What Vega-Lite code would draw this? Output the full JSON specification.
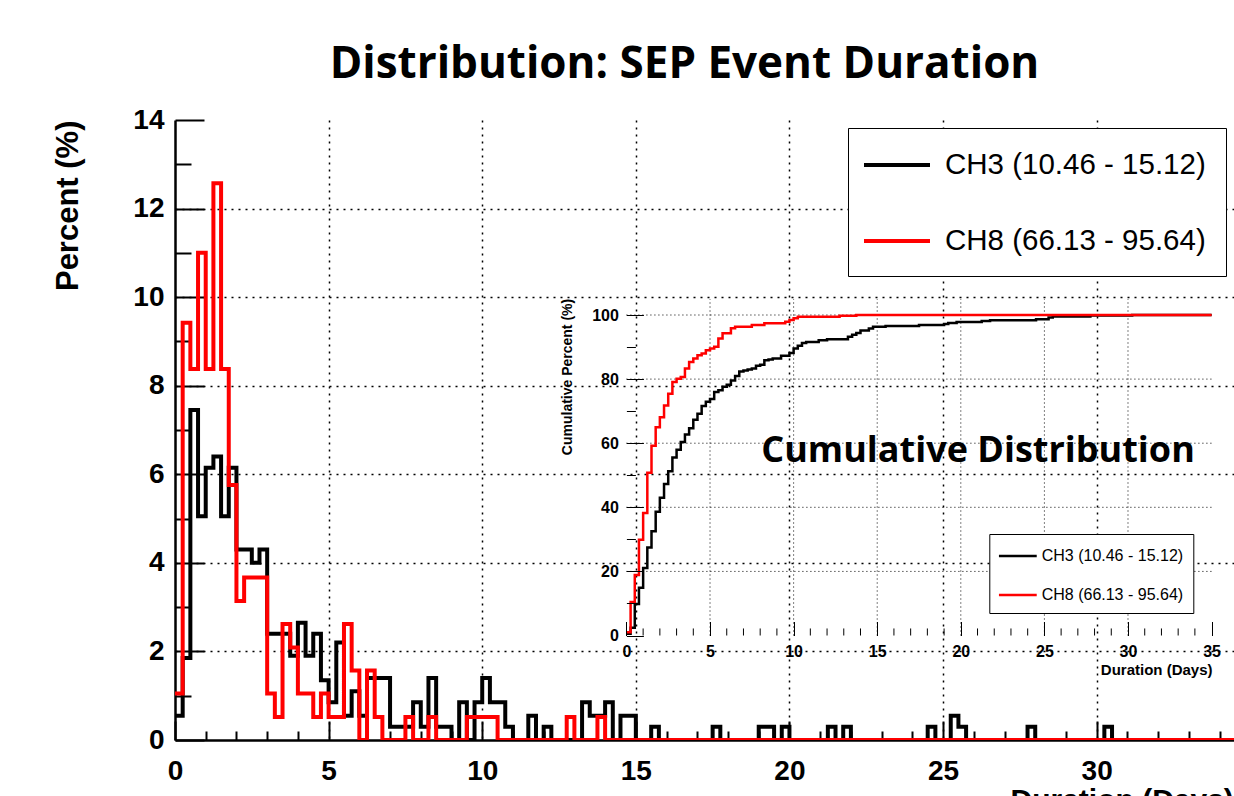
{
  "$schema": "https://vega.github.io/schema/vega-lite/v6.json",
  "width": 1059,
  "height": 620,
  "autosize": {"type": "none"},
  "padding": {"left": 175, "top": 120, "right": 0, "bottom": 56},
  "background": "white",
  "config": {"view": {"stroke": null}, "axis": {"labelOverlap": false, "labelFont": "Liberation Sans", "labelFontWeight": "bold", "labelFontSize": 16, "labelColor": "black", "tickColor": "black"}},
  "title": {"text": "Distribution: SEP Event Duration", "font": "Open Sans", "fontSize": 44, "fontWeight": "bold", "color": "black", "anchor": "middle", "dx": -20, "dy": 46, "offset": 30, "baseline": "alphabetic"},
  "datasets": {
    "hist": [
      {"d": 0, "p": 0.55, "ch": "CH3 (10.46 - 15.12)"},
      {"d": 0.25, "p": 1.85, "ch": "CH3 (10.46 - 15.12)"},
      {"d": 0.5, "p": 7.45, "ch": "CH3 (10.46 - 15.12)"},
      {"d": 0.75, "p": 5.05, "ch": "CH3 (10.46 - 15.12)"},
      {"d": 1.0, "p": 6.15, "ch": "CH3 (10.46 - 15.12)"},
      {"d": 1.25, "p": 6.4, "ch": "CH3 (10.46 - 15.12)"},
      {"d": 1.5, "p": 5.05, "ch": "CH3 (10.46 - 15.12)"},
      {"d": 1.75, "p": 6.15, "ch": "CH3 (10.46 - 15.12)"},
      {"d": 2.0, "p": 4.3, "ch": "CH3 (10.46 - 15.12)"},
      {"d": 2.5, "p": 4.0, "ch": "CH3 (10.46 - 15.12)"},
      {"d": 2.75, "p": 4.3, "ch": "CH3 (10.46 - 15.12)"},
      {"d": 3.0, "p": 2.4, "ch": "CH3 (10.46 - 15.12)"},
      {"d": 3.75, "p": 1.9, "ch": "CH3 (10.46 - 15.12)"},
      {"d": 4.0, "p": 2.65, "ch": "CH3 (10.46 - 15.12)"},
      {"d": 4.25, "p": 1.9, "ch": "CH3 (10.46 - 15.12)"},
      {"d": 4.5, "p": 2.4, "ch": "CH3 (10.46 - 15.12)"},
      {"d": 4.75, "p": 1.35, "ch": "CH3 (10.46 - 15.12)"},
      {"d": 5.0, "p": 0.85, "ch": "CH3 (10.46 - 15.12)"},
      {"d": 5.25, "p": 2.2, "ch": "CH3 (10.46 - 15.12)"},
      {"d": 5.5, "p": 0.55, "ch": "CH3 (10.46 - 15.12)"},
      {"d": 5.75, "p": 1.1, "ch": "CH3 (10.46 - 15.12)"},
      {"d": 6.0, "p": 0.55, "ch": "CH3 (10.46 - 15.12)"},
      {"d": 6.25, "p": 1.4, "ch": "CH3 (10.46 - 15.12)"},
      {"d": 7.0, "p": 0.3, "ch": "CH3 (10.46 - 15.12)"},
      {"d": 7.75, "p": 0.85, "ch": "CH3 (10.46 - 15.12)"},
      {"d": 8.0, "p": 0.3, "ch": "CH3 (10.46 - 15.12)"},
      {"d": 8.25, "p": 1.4, "ch": "CH3 (10.46 - 15.12)"},
      {"d": 8.5, "p": 0.3, "ch": "CH3 (10.46 - 15.12)"},
      {"d": 9.0, "p": 0, "ch": "CH3 (10.46 - 15.12)"},
      {"d": 9.25, "p": 0.85, "ch": "CH3 (10.46 - 15.12)"},
      {"d": 9.5, "p": 0, "ch": "CH3 (10.46 - 15.12)"},
      {"d": 9.75, "p": 0.85, "ch": "CH3 (10.46 - 15.12)"},
      {"d": 10.0, "p": 1.4, "ch": "CH3 (10.46 - 15.12)"},
      {"d": 10.25, "p": 0.85, "ch": "CH3 (10.46 - 15.12)"},
      {"d": 10.75, "p": 0.3, "ch": "CH3 (10.46 - 15.12)"},
      {"d": 11.0, "p": 0, "ch": "CH3 (10.46 - 15.12)"},
      {"d": 11.5, "p": 0.55, "ch": "CH3 (10.46 - 15.12)"},
      {"d": 11.75, "p": 0, "ch": "CH3 (10.46 - 15.12)"},
      {"d": 12.0, "p": 0.3, "ch": "CH3 (10.46 - 15.12)"},
      {"d": 12.25, "p": 0, "ch": "CH3 (10.46 - 15.12)"},
      {"d": 13.25, "p": 0.85, "ch": "CH3 (10.46 - 15.12)"},
      {"d": 13.5, "p": 0.55, "ch": "CH3 (10.46 - 15.12)"},
      {"d": 14.0, "p": 0.85, "ch": "CH3 (10.46 - 15.12)"},
      {"d": 14.25, "p": 0, "ch": "CH3 (10.46 - 15.12)"},
      {"d": 14.5, "p": 0.55, "ch": "CH3 (10.46 - 15.12)"},
      {"d": 15.0, "p": 0, "ch": "CH3 (10.46 - 15.12)"},
      {"d": 15.5, "p": 0.3, "ch": "CH3 (10.46 - 15.12)"},
      {"d": 15.75, "p": 0, "ch": "CH3 (10.46 - 15.12)"},
      {"d": 17.5, "p": 0.3, "ch": "CH3 (10.46 - 15.12)"},
      {"d": 17.75, "p": 0, "ch": "CH3 (10.46 - 15.12)"},
      {"d": 19.0, "p": 0.3, "ch": "CH3 (10.46 - 15.12)"},
      {"d": 19.5, "p": 0, "ch": "CH3 (10.46 - 15.12)"},
      {"d": 19.75, "p": 0.3, "ch": "CH3 (10.46 - 15.12)"},
      {"d": 20.0, "p": 0, "ch": "CH3 (10.46 - 15.12)"},
      {"d": 21.25, "p": 0.3, "ch": "CH3 (10.46 - 15.12)"},
      {"d": 21.5, "p": 0, "ch": "CH3 (10.46 - 15.12)"},
      {"d": 21.75, "p": 0.3, "ch": "CH3 (10.46 - 15.12)"},
      {"d": 22.0, "p": 0, "ch": "CH3 (10.46 - 15.12)"},
      {"d": 24.5, "p": 0.3, "ch": "CH3 (10.46 - 15.12)"},
      {"d": 24.75, "p": 0, "ch": "CH3 (10.46 - 15.12)"},
      {"d": 25.25, "p": 0.55, "ch": "CH3 (10.46 - 15.12)"},
      {"d": 25.5, "p": 0.3, "ch": "CH3 (10.46 - 15.12)"},
      {"d": 25.75, "p": 0, "ch": "CH3 (10.46 - 15.12)"},
      {"d": 27.75, "p": 0.3, "ch": "CH3 (10.46 - 15.12)"},
      {"d": 28.0, "p": 0, "ch": "CH3 (10.46 - 15.12)"},
      {"d": 30.25, "p": 0.3, "ch": "CH3 (10.46 - 15.12)"},
      {"d": 30.5, "p": 0, "ch": "CH3 (10.46 - 15.12)"},
      {"d": 35, "p": 0, "ch": "CH3 (10.46 - 15.12)"},
      {"d": 0, "p": 1.05, "ch": "CH8 (66.13 - 95.64)"},
      {"d": 0.25, "p": 9.42, "ch": "CH8 (66.13 - 95.64)"},
      {"d": 0.5, "p": 8.38, "ch": "CH8 (66.13 - 95.64)"},
      {"d": 0.75, "p": 11.0, "ch": "CH8 (66.13 - 95.64)"},
      {"d": 1.0, "p": 8.38, "ch": "CH8 (66.13 - 95.64)"},
      {"d": 1.25, "p": 12.57, "ch": "CH8 (66.13 - 95.64)"},
      {"d": 1.5, "p": 8.38, "ch": "CH8 (66.13 - 95.64)"},
      {"d": 1.75, "p": 5.76, "ch": "CH8 (66.13 - 95.64)"},
      {"d": 2.0, "p": 3.14, "ch": "CH8 (66.13 - 95.64)"},
      {"d": 2.25, "p": 3.67, "ch": "CH8 (66.13 - 95.64)"},
      {"d": 3.0, "p": 1.05, "ch": "CH8 (66.13 - 95.64)"},
      {"d": 3.25, "p": 0.52, "ch": "CH8 (66.13 - 95.64)"},
      {"d": 3.5, "p": 2.62, "ch": "CH8 (66.13 - 95.64)"},
      {"d": 3.75, "p": 2.09, "ch": "CH8 (66.13 - 95.64)"},
      {"d": 4.0, "p": 1.05, "ch": "CH8 (66.13 - 95.64)"},
      {"d": 4.5, "p": 0.52, "ch": "CH8 (66.13 - 95.64)"},
      {"d": 4.75, "p": 1.05, "ch": "CH8 (66.13 - 95.64)"},
      {"d": 5.0, "p": 0.52, "ch": "CH8 (66.13 - 95.64)"},
      {"d": 5.5, "p": 2.62, "ch": "CH8 (66.13 - 95.64)"},
      {"d": 5.75, "p": 1.57, "ch": "CH8 (66.13 - 95.64)"},
      {"d": 6.0, "p": 0, "ch": "CH8 (66.13 - 95.64)"},
      {"d": 6.25, "p": 1.57, "ch": "CH8 (66.13 - 95.64)"},
      {"d": 6.5, "p": 0.52, "ch": "CH8 (66.13 - 95.64)"},
      {"d": 6.75, "p": 0, "ch": "CH8 (66.13 - 95.64)"},
      {"d": 7.5, "p": 0.52, "ch": "CH8 (66.13 - 95.64)"},
      {"d": 7.75, "p": 0, "ch": "CH8 (66.13 - 95.64)"},
      {"d": 8.25, "p": 0.52, "ch": "CH8 (66.13 - 95.64)"},
      {"d": 8.5, "p": 0, "ch": "CH8 (66.13 - 95.64)"},
      {"d": 9.5, "p": 0.52, "ch": "CH8 (66.13 - 95.64)"},
      {"d": 10.5, "p": 0, "ch": "CH8 (66.13 - 95.64)"},
      {"d": 12.75, "p": 0.52, "ch": "CH8 (66.13 - 95.64)"},
      {"d": 13.0, "p": 0, "ch": "CH8 (66.13 - 95.64)"},
      {"d": 13.75, "p": 0.52, "ch": "CH8 (66.13 - 95.64)"},
      {"d": 14.0, "p": 0, "ch": "CH8 (66.13 - 95.64)"},
      {"d": 35, "p": 0, "ch": "CH8 (66.13 - 95.64)"}
    ],
    "cum": [
      {"d": 0, "c": 0.55, "ch": "CH3 (10.46 - 15.12)"},
      {"d": 0.25, "c": 2.4, "ch": "CH3 (10.46 - 15.12)"},
      {"d": 0.5, "c": 9.85, "ch": "CH3 (10.46 - 15.12)"},
      {"d": 0.75, "c": 14.9, "ch": "CH3 (10.46 - 15.12)"},
      {"d": 1.0, "c": 21.05, "ch": "CH3 (10.46 - 15.12)"},
      {"d": 1.25, "c": 27.45, "ch": "CH3 (10.46 - 15.12)"},
      {"d": 1.5, "c": 32.5, "ch": "CH3 (10.46 - 15.12)"},
      {"d": 1.75, "c": 38.65, "ch": "CH3 (10.46 - 15.12)"},
      {"d": 2.0, "c": 42.95, "ch": "CH3 (10.46 - 15.12)"},
      {"d": 2.25, "c": 47.25, "ch": "CH3 (10.46 - 15.12)"},
      {"d": 2.5, "c": 51.25, "ch": "CH3 (10.46 - 15.12)"},
      {"d": 2.75, "c": 55.55, "ch": "CH3 (10.46 - 15.12)"},
      {"d": 3.0, "c": 57.95, "ch": "CH3 (10.46 - 15.12)"},
      {"d": 3.25, "c": 60.35, "ch": "CH3 (10.46 - 15.12)"},
      {"d": 3.5, "c": 62.75, "ch": "CH3 (10.46 - 15.12)"},
      {"d": 3.75, "c": 64.65, "ch": "CH3 (10.46 - 15.12)"},
      {"d": 4.0, "c": 67.3, "ch": "CH3 (10.46 - 15.12)"},
      {"d": 4.25, "c": 69.2, "ch": "CH3 (10.46 - 15.12)"},
      {"d": 4.5, "c": 71.6, "ch": "CH3 (10.46 - 15.12)"},
      {"d": 4.75, "c": 72.95, "ch": "CH3 (10.46 - 15.12)"},
      {"d": 5.0, "c": 73.8, "ch": "CH3 (10.46 - 15.12)"},
      {"d": 5.25, "c": 76.0, "ch": "CH3 (10.46 - 15.12)"},
      {"d": 5.5, "c": 76.55, "ch": "CH3 (10.46 - 15.12)"},
      {"d": 5.75, "c": 77.65, "ch": "CH3 (10.46 - 15.12)"},
      {"d": 6.0, "c": 78.2, "ch": "CH3 (10.46 - 15.12)"},
      {"d": 6.25, "c": 79.6, "ch": "CH3 (10.46 - 15.12)"},
      {"d": 6.5, "c": 81.0, "ch": "CH3 (10.46 - 15.12)"},
      {"d": 6.75, "c": 82.4, "ch": "CH3 (10.46 - 15.12)"},
      {"d": 7.0, "c": 82.7, "ch": "CH3 (10.46 - 15.12)"},
      {"d": 7.25, "c": 83.0, "ch": "CH3 (10.46 - 15.12)"},
      {"d": 7.5, "c": 83.3, "ch": "CH3 (10.46 - 15.12)"},
      {"d": 7.75, "c": 84.15, "ch": "CH3 (10.46 - 15.12)"},
      {"d": 8.0, "c": 84.45, "ch": "CH3 (10.46 - 15.12)"},
      {"d": 8.25, "c": 85.85, "ch": "CH3 (10.46 - 15.12)"},
      {"d": 8.5, "c": 86.15, "ch": "CH3 (10.46 - 15.12)"},
      {"d": 8.75, "c": 86.45, "ch": "CH3 (10.46 - 15.12)"},
      {"d": 9.25, "c": 87.3, "ch": "CH3 (10.46 - 15.12)"},
      {"d": 9.75, "c": 88.15, "ch": "CH3 (10.46 - 15.12)"},
      {"d": 10.0, "c": 89.55, "ch": "CH3 (10.46 - 15.12)"},
      {"d": 10.25, "c": 90.4, "ch": "CH3 (10.46 - 15.12)"},
      {"d": 10.5, "c": 91.25, "ch": "CH3 (10.46 - 15.12)"},
      {"d": 10.75, "c": 91.55, "ch": "CH3 (10.46 - 15.12)"},
      {"d": 11.5, "c": 92.1, "ch": "CH3 (10.46 - 15.12)"},
      {"d": 12.0, "c": 92.4, "ch": "CH3 (10.46 - 15.12)"},
      {"d": 13.25, "c": 93.25, "ch": "CH3 (10.46 - 15.12)"},
      {"d": 13.5, "c": 93.8, "ch": "CH3 (10.46 - 15.12)"},
      {"d": 13.75, "c": 94.35, "ch": "CH3 (10.46 - 15.12)"},
      {"d": 14.0, "c": 95.2, "ch": "CH3 (10.46 - 15.12)"},
      {"d": 14.5, "c": 95.75, "ch": "CH3 (10.46 - 15.12)"},
      {"d": 14.75, "c": 96.3, "ch": "CH3 (10.46 - 15.12)"},
      {"d": 15.5, "c": 96.6, "ch": "CH3 (10.46 - 15.12)"},
      {"d": 17.5, "c": 96.9, "ch": "CH3 (10.46 - 15.12)"},
      {"d": 19.0, "c": 97.2, "ch": "CH3 (10.46 - 15.12)"},
      {"d": 19.25, "c": 97.5, "ch": "CH3 (10.46 - 15.12)"},
      {"d": 19.75, "c": 97.8, "ch": "CH3 (10.46 - 15.12)"},
      {"d": 21.25, "c": 98.1, "ch": "CH3 (10.46 - 15.12)"},
      {"d": 21.75, "c": 98.4, "ch": "CH3 (10.46 - 15.12)"},
      {"d": 24.5, "c": 98.7, "ch": "CH3 (10.46 - 15.12)"},
      {"d": 25.25, "c": 99.25, "ch": "CH3 (10.46 - 15.12)"},
      {"d": 25.5, "c": 99.55, "ch": "CH3 (10.46 - 15.12)"},
      {"d": 27.75, "c": 99.85, "ch": "CH3 (10.46 - 15.12)"},
      {"d": 30.25, "c": 100, "ch": "CH3 (10.46 - 15.12)"},
      {"d": 35, "c": 100, "ch": "CH3 (10.46 - 15.12)"},
      {"d": 0, "c": 1.05, "ch": "CH8 (66.13 - 95.64)"},
      {"d": 0.25, "c": 10.47, "ch": "CH8 (66.13 - 95.64)"},
      {"d": 0.5, "c": 18.85, "ch": "CH8 (66.13 - 95.64)"},
      {"d": 0.75, "c": 29.85, "ch": "CH8 (66.13 - 95.64)"},
      {"d": 1.0, "c": 38.23, "ch": "CH8 (66.13 - 95.64)"},
      {"d": 1.25, "c": 50.8, "ch": "CH8 (66.13 - 95.64)"},
      {"d": 1.5, "c": 59.18, "ch": "CH8 (66.13 - 95.64)"},
      {"d": 1.75, "c": 64.94, "ch": "CH8 (66.13 - 95.64)"},
      {"d": 2.0, "c": 68.08, "ch": "CH8 (66.13 - 95.64)"},
      {"d": 2.25, "c": 71.75, "ch": "CH8 (66.13 - 95.64)"},
      {"d": 2.5, "c": 75.42, "ch": "CH8 (66.13 - 95.64)"},
      {"d": 2.75, "c": 79.09, "ch": "CH8 (66.13 - 95.64)"},
      {"d": 3.0, "c": 80.14, "ch": "CH8 (66.13 - 95.64)"},
      {"d": 3.25, "c": 80.66, "ch": "CH8 (66.13 - 95.64)"},
      {"d": 3.5, "c": 83.28, "ch": "CH8 (66.13 - 95.64)"},
      {"d": 3.75, "c": 85.37, "ch": "CH8 (66.13 - 95.64)"},
      {"d": 4.0, "c": 86.42, "ch": "CH8 (66.13 - 95.64)"},
      {"d": 4.25, "c": 87.47, "ch": "CH8 (66.13 - 95.64)"},
      {"d": 4.5, "c": 87.99, "ch": "CH8 (66.13 - 95.64)"},
      {"d": 4.75, "c": 89.04, "ch": "CH8 (66.13 - 95.64)"},
      {"d": 5.0, "c": 89.56, "ch": "CH8 (66.13 - 95.64)"},
      {"d": 5.25, "c": 90.08, "ch": "CH8 (66.13 - 95.64)"},
      {"d": 5.5, "c": 92.7, "ch": "CH8 (66.13 - 95.64)"},
      {"d": 5.75, "c": 94.27, "ch": "CH8 (66.13 - 95.64)"},
      {"d": 6.25, "c": 95.84, "ch": "CH8 (66.13 - 95.64)"},
      {"d": 6.5, "c": 96.36, "ch": "CH8 (66.13 - 95.64)"},
      {"d": 7.5, "c": 96.88, "ch": "CH8 (66.13 - 95.64)"},
      {"d": 8.25, "c": 97.4, "ch": "CH8 (66.13 - 95.64)"},
      {"d": 9.5, "c": 97.92, "ch": "CH8 (66.13 - 95.64)"},
      {"d": 9.75, "c": 98.44, "ch": "CH8 (66.13 - 95.64)"},
      {"d": 10.0, "c": 98.96, "ch": "CH8 (66.13 - 95.64)"},
      {"d": 10.25, "c": 99.48, "ch": "CH8 (66.13 - 95.64)"},
      {"d": 12.75, "c": 99.74, "ch": "CH8 (66.13 - 95.64)"},
      {"d": 13.75, "c": 100, "ch": "CH8 (66.13 - 95.64)"},
      {"d": 35, "c": 100, "ch": "CH8 (66.13 - 95.64)"}
    ],
    "igx": [{"g": 5}, {"g": 10}, {"g": 15}, {"g": 20}, {"g": 25}, {"g": 30}],
    "igy": [{"g": 20}, {"g": 40}, {"g": 60}, {"g": 80}, {"g": 100}],
    "itx": [{"t": 1}, {"t": 2}, {"t": 3}, {"t": 4}, {"t": 6}, {"t": 7}, {"t": 8}, {"t": 9}, {"t": 11}, {"t": 12}, {"t": 13}, {"t": 14}, {"t": 16}, {"t": 17}, {"t": 18}, {"t": 19}, {"t": 21}, {"t": 22}, {"t": 23}, {"t": 24}, {"t": 26}, {"t": 27}, {"t": 28}, {"t": 29}, {"t": 31}, {"t": 32}, {"t": 33}, {"t": 34}],
    "lbl": [{"label": "Cumulative Distribution"}]
  },
  "layer": [
    {
      "layer": [
        {
          "data": {"name": "hist"},
          "mark": {"type": "line", "interpolate": "step-after", "strokeWidth": 4, "clip": true, "strokeJoin": "miter", "strokeCap": "butt"},
          "encoding": {
            "x": {
              "field": "d", "type": "quantitative",
              "scale": {"domain": [0, 34.47], "nice": false, "zero": false},
              "axis": {
                "orient": "bottom",
                "values": [0,1,2,3,4,5,6,7,8,9,10,11,12,13,14,15,16,17,18,19,20,21,22,23,24,25,26,27,28,29,30,31,32,33,34],
                "labelExpr": "datum.value % 5 === 0 ? datum.label : ''",
                "tickSize": {"condition": {"test": "datum.value % 5 === 0", "value": -19}, "value": -9},
                "tickColor": "black", "tickWidth": 2,
                "labelFont": "Liberation Sans", "labelFontWeight": "bold", "labelFontSize": 28, "labelColor": "black",
                "labelPadding": 36, "labelFlush": false, "labelOverlap": false,
                "grid": true, "gridColor": "black", "gridWidth": 1.5, "gridDash": [2, 5],
                "gridOpacity": {"condition": {"test": "datum.value % 5 === 0 && datum.value > 0", "value": 1}, "value": 0},
                "domainColor": "black", "domainWidth": 2.5,
                "title": "Duration (Days)", "titleFont": "Liberation Sans", "titleFontWeight": "bold", "titleFontSize": 30, "titleColor": "black",
                "titleAlign": "left", "titleAnchor": "start", "titleX": 835, "titleY": 45, "titleBaseline": "top"
              }
            },
            "y": {
              "field": "p", "type": "quantitative",
              "scale": {"domain": [0, 14], "nice": false, "zero": false},
              "axis": {
                "orient": "left",
                "values": [0,0.5,1,1.5,2,2.5,3,3.5,4,4.5,5,5.5,6,6.5,7,7.5,8,8.5,9,9.5,10,10.5,11,11.5,12,12.5,13,13.5,14],
                "labelExpr": "datum.value % 2 === 0 ? datum.label : ''",
                "tickSize": {"condition": {"test": "datum.value % 2 === 0", "value": -29}, "value": -16},
                "tickColor": "black", "tickWidth": 2,
                "labelFont": "Liberation Sans", "labelFontWeight": "bold", "labelFontSize": 28, "labelColor": "black",
                "labelPadding": 40, "labelFlush": false, "labelOverlap": false,
                "grid": true, "gridColor": "black", "gridWidth": 1.5, "gridDash": [2, 5],
                "gridOpacity": {"condition": {"test": "datum.value % 2 === 0 && datum.value > 0 && datum.value < 14", "value": 1}, "value": 0},
                "domainColor": "black", "domainWidth": 2.5,
                "title": "Percent (%)", "titleFont": "Liberation Sans", "titleFontWeight": "bold", "titleFontSize": 31, "titleColor": "black",
                "titleAngle": -90, "titleAlign": "right", "titleBaseline": "middle", "titleX": -107, "titleY": 0
              }
            },
            "color": {
              "field": "ch", "type": "nominal",
              "scale": {"domain": ["CH3 (10.46 - 15.12)", "CH8 (66.13 - 95.64)"], "range": ["#000000", "#ff0000"]},
              "legend": {
                "orient": "none", "legendX": 673, "legendY": 8, "title": null,
                "symbolType": "M-1.4,0H3", "symbolSize": 900, "symbolStrokeWidth": 4,
                "labelFont": "Liberation Sans", "labelFontSize": 29.5, "labelColor": "black", "labelOffset": 43, "labelLimit": 500,
                "rowPadding": 44, "padding": 20, "strokeColor": "black", "fillColor": "white"
              }
            }
          }
        },
        {
          "mark": {"type": "rule", "color": "black", "strokeWidth": 2},
          "encoding": {"y": {"datum": 14, "type": "quantitative"}}
        }
      ]
    },
    {
      "layer": [
        {
          "mark": {"type": "rect", "fill": "white", "stroke": null},
          "encoding": {
            "x": {"datum": -4.45, "type": "quantitative"},
            "x2": {"datum": 35.8},
            "y": {"datum": -14.5, "type": "quantitative"},
            "y2": {"datum": 107.8}
          }
        },
        {
          "data": {"name": "igx"},
          "mark": {"type": "rule", "color": "black", "strokeWidth": 1, "strokeDash": [1, 3]},
          "encoding": {
            "x": {"field": "g", "type": "quantitative"},
            "y": {"datum": 0, "type": "quantitative"},
            "y2": {"datum": 105}
          }
        },
        {
          "data": {"name": "igy"},
          "mark": {"type": "rule", "color": "black", "strokeWidth": 1, "strokeDash": [1, 3]},
          "encoding": {
            "y": {"field": "g", "type": "quantitative"},
            "x": {"datum": 0, "type": "quantitative"},
            "x2": {"datum": 35}
          }
        },
        {
          "data": {"name": "itx"},
          "mark": {"type": "rule", "color": "black", "strokeWidth": 1},
          "encoding": {
            "x": {"field": "t", "type": "quantitative"},
            "y": {"datum": 0, "type": "quantitative"},
            "y2": {"datum": 2.2}
          }
        },
        {
          "data": {"name": "lbl"},
          "mark": {"type": "text", "font": "Open Sans", "fontWeight": "bold", "fontSize": 36, "fill": "black", "align": "center", "baseline": "middle"},
          "encoding": {
            "text": {"field": "label", "type": "nominal"},
            "x": {"datum": 21.03, "type": "quantitative"},
            "y": {"datum": 57.6, "type": "quantitative"}
          }
        },
        {
          "data": {"name": "cum"},
          "mark": {"type": "line", "interpolate": "step-after", "strokeWidth": 2.5, "clip": false, "strokeJoin": "miter", "strokeCap": "butt"},
          "encoding": {
            "x": {
              "field": "d", "type": "quantitative",
              "scale": {"domain": [-27.0, 36.34], "nice": false, "zero": false},
              "axis": {
                "orient": "bottom", "offset": -104.5, "zindex": 1, "domain": false, "grid": false,
                "values": [0, 5, 10, 15, 20, 25, 30, 35],
                "tickSize": -14,
                "tickColor": "black", "tickWidth": 1,
                "labelFont": "Liberation Sans", "labelFontWeight": "bold", "labelFontSize": 16, "labelColor": "black",
                "labelPadding": 22, "labelFlush": false, "labelOverlap": false, "labelBound": false,
                "title": "Duration (Days)", "titleFont": "Liberation Sans", "titleFontWeight": "bold", "titleFontSize": 15, "titleColor": "black",
                "titleAlign": "right", "titleX": 1037, "titleY": 33.5, "titleBaseline": "middle"
              }
            },
            "y": {
              "field": "c", "type": "quantitative",
              "scale": {"domain": [-32.6, 160.84], "nice": false, "zero": false},
              "axis": {
                "orient": "left", "offset": -451.4, "zindex": 1, "domain": false, "grid": false,
                "values": [0,5,10,15,20,25,30,35,40,45,50,55,60,65,70,75,80,85,90,95,100],
                "labelExpr": "datum.value % 20 === 0 ? datum.label : ''",
                "tickSize": {"condition": {"test": "datum.value % 20 === 0", "value": -17}, "value": -9},
                "tickColor": "black", "tickWidth": 1,
                "labelFont": "Liberation Sans", "labelFontWeight": "bold", "labelFontSize": 16, "labelColor": "black",
                "labelPadding": 25, "labelFlush": false, "labelOverlap": false,
                "title": "Cumulative Percent (%)", "titleFont": "Liberation Sans", "titleFontWeight": "bold", "titleFontSize": 14, "titleColor": "black",
                "titleAngle": -90, "titleAlign": "right", "titleBaseline": "middle", "titleX": -59.4, "titleY": 178.3
              }
            },
            "color": {
              "field": "ch", "type": "nominal",
              "scale": {"domain": ["CH3 (10.46 - 15.12)", "CH8 (66.13 - 95.64)"], "range": ["#000000", "#ff0000"]},
              "legend": {
                "orient": "none", "legendX": 814.3, "legendY": 414, "title": null,
                "symbolType": "M-1.2,0H2.47", "symbolSize": 424, "symbolStrokeWidth": 2.5,
                "labelFont": "Liberation Sans", "labelFontSize": 16, "labelColor": "black", "labelOffset": 18.4, "labelLimit": 400,
                "rowPadding": 19, "padding": 10, "strokeColor": "black", "fillColor": "white"
              }
            }
          }
        },
        {
          "mark": {"type": "rect", "fill": null, "stroke": "black", "strokeWidth": 1.2},
          "encoding": {
            "x": {"datum": 0, "type": "quantitative"},
            "x2": {"datum": 35},
            "y": {"datum": 0, "type": "quantitative"},
            "y2": {"datum": 105}
          }
        }
      ]
    }
  ],
  "resolve": {"scale": {"x": "independent", "y": "independent", "color": "independent"}}
}
